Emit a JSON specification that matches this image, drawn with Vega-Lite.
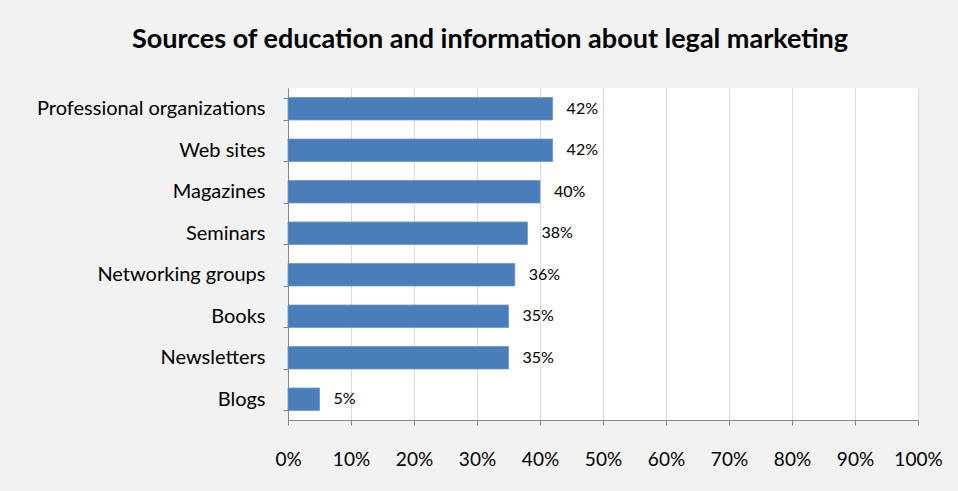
{
  "$schema": "https://vega.github.io/schema/vega-lite/v6.json",
  "width": 630,
  "height": 332,
  "autosize": {"type": "none"},
  "padding": {"left": 288, "top": 88, "right": 40, "bottom": 71},
  "background": "#f2f2f2",
  "title": {
    "text": "Sources of education and information about legal marketing",
    "font": "Lato",
    "fontSize": 27,
    "fontWeight": "bold",
    "color": "#000000",
    "anchor": "middle",
    "frame": "group",
    "dx": -113,
    "offset": 24
  },
  "data": {
    "values": [
      {"source": "Professional organizations", "share": 0.42, "label": "42%"},
      {"source": "Web sites", "share": 0.42, "label": "42%"},
      {"source": "Magazines", "share": 0.40, "label": "40%"},
      {"source": "Seminars", "share": 0.38, "label": "38%"},
      {"source": "Networking groups", "share": 0.36, "label": "36%"},
      {"source": "Books", "share": 0.35, "label": "35%"},
      {"source": "Newsletters", "share": 0.35, "label": "35%"},
      {"source": "Blogs", "share": 0.05, "label": "5%"}
    ]
  },
  "config": {
    "view": {"fill": "#ffffff", "stroke": null},
    "font": "Lato"
  },
  "encoding": {
    "y": {
      "field": "source",
      "type": "nominal",
      "sort": null,
      "title": null,
      "scale": {"paddingInner": 0.46, "paddingOuter": 0.23},
      "axis": {
        "tickBand": "extent",
        "tickSize": 5,
        "tickColor": "#868686",
        "domainColor": "#868686",
        "labelFontSize": 20,
        "labelColor": "#000000",
        "labelPadding": 18,
        "labelLimit": 400,
        "labelFont": "Lato",
        "grid": false
      }
    },
    "x": {
      "field": "share",
      "type": "quantitative",
      "title": null,
      "scale": {"domain": [0, 1]},
      "axis": {
        "format": ".0%",
        "values": [0, 0.1, 0.2, 0.3, 0.4, 0.5, 0.6, 0.7, 0.8, 0.9, 1],
        "labelOverlap": false,
        "labelBound": false,
        "labelFlush": false,
        "tickSize": 5,
        "tickColor": "#868686",
        "domainColor": "#868686",
        "gridColor": "#d9d9d9",
        "labelFontSize": 19,
        "labelColor": "#000000",
        "labelPadding": 25,
        "labelFont": "Lato"
      }
    }
  },
  "layer": [
    {
      "mark": {"type": "bar", "color": "#4a7ebb", "stroke": "#6a96c8", "strokeWidth": 0.8}
    },
    {
      "mark": {"type": "text", "align": "left", "dx": 14, "fontSize": 16, "color": "#000000", "font": "Lato"},
      "encoding": {"text": {"field": "label"}}
    }
  ]
}
